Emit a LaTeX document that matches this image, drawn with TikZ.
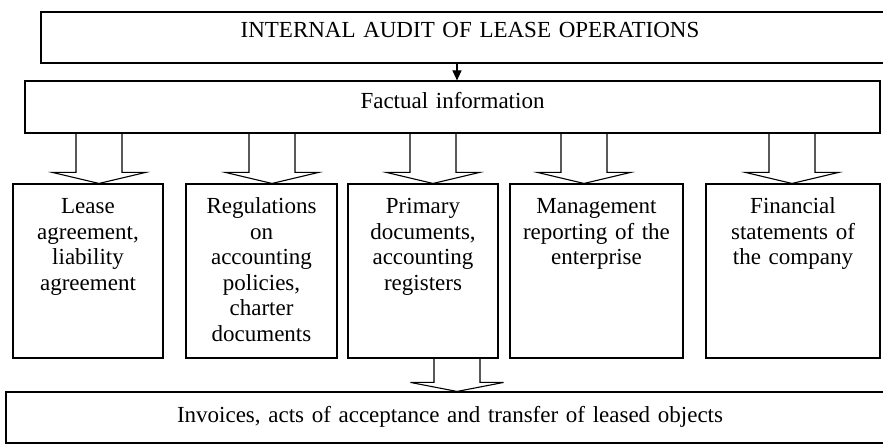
\documentclass[tikz,border=0pt]{standalone}
\usepackage{fontspec}
\setmainfont{Liberation Serif}
\usetikzlibrary{calc,arrows.meta}
\tikzstyle{bx}=[draw=black,line width=1.1pt,align=center,inner sep=0pt,font=\fontsize{23}{25.5}\selectfont]
\tikzstyle{fat}=[draw=black,line width=1.1pt,line join=miter]
\newcommand{\fatarrow}[4]{\draw[fat] let \p1=(#2.south), \p2=(#3.north) in (#1-23,\y1) -- (#1-23,\y2+#4) -- (#1-46.5,\y2+#4) -- (#1,\y2) -- (#1+46.5,\y2+#4) -- (#1+23,\y2+#4) -- (#1+23,\y1);}

\begin{document}
\begin{tikzpicture}[x=1pt,y=1pt]
\useasboundingbox (0,0) rectangle (883,444);
\node[bx,text width=858pt,text height=26pt,text depth=25pt] (audit) at (470,406.5) {INTERNAL AUDIT OF LEASE OPERATIONS};
\node[bx,text width=855pt,text height=28pt,text depth=24pt] (fact) at (452.5,337) {Factual information};
\node[bx,text width=150pt,text height=30pt,text depth=144pt] (lease) at (88,173) {Lease\\agreement,\\liability\\agreement};
\node[bx,text width=151pt,text height=30pt,text depth=144pt] (regs) at (261.5,173) {Regulations\\on\\accounting\\policies,\\charter\\documents};
\node[bx,text width=150pt,text height=30pt,text depth=144pt] (prim) at (423,173) {Primary\\documents,\\accounting\\registers};
\node[bx,text width=173pt,text height=30pt,text depth=144pt] (mgmt) at (596.5,173) {Management\\reporting of the\\enterprise};
\node[bx,text width=174pt,text height=30pt,text depth=144pt] (fin) at (793,173) {Financial\\statements of\\the company};
\node[bx,text width=888pt,text height=31pt,text depth=20pt] (inv) at (450,26.5) {Invoices, acts of acceptance and transfer of leased objects};
\draw[line width=1.1pt,-{Triangle[length=10pt,width=9pt]}] (457,0 |- audit.south) -- (457,0 |- fact.north);
\fatarrow{99}{fact}{lease}{11} \fatarrow{272}{fact}{regs}{11} \fatarrow{433}{fact}{prim}{11} \fatarrow{584}{fact}{mgmt}{11} \fatarrow{792}{fact}{fin}{11}
\fatarrow{457}{prim}{inv}{9}
\end{tikzpicture}
\end{document}
